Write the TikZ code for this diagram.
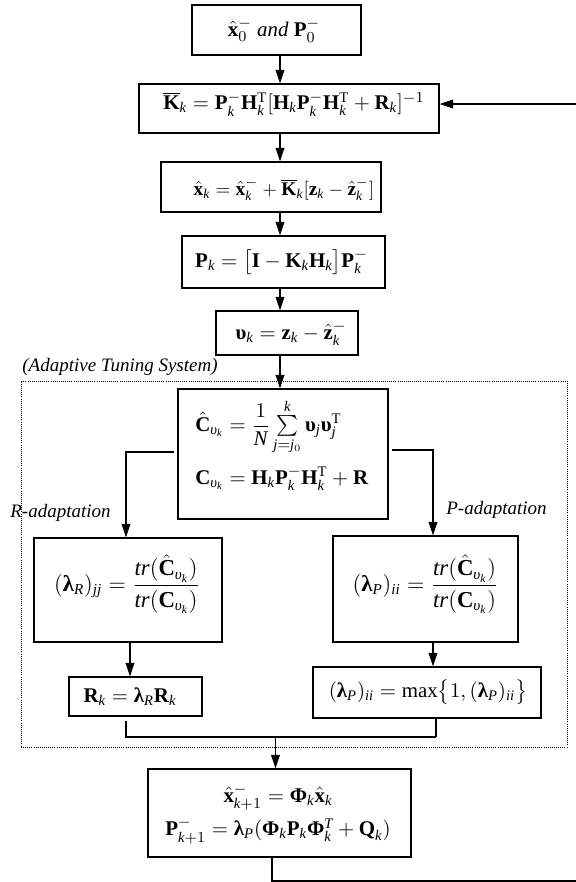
\documentclass[tikz,border=0pt]{standalone}
\usepackage{amsmath}
\usepackage{fontspec}
\setmainfont{Liberation Serif}
\usetikzlibrary{arrows.meta}
\DeclareSymbolFont{tletters}{TU}{\rmdefault}{m}{it}
\makeatletter
\count@=`a
\loop\Umathcode\count@="7 \symtletters\count@\ifnum\count@<`z\advance\count@\@ne\repeat
\count@=`A
\loop\Umathcode\count@="7 \symtletters\count@\ifnum\count@<`Z\advance\count@\@ne\repeat
\makeatother
\newcommand{\vb}[1]{\text{\normalfont\bfseries #1}}
\newcommand{\iu}{\text{\normalfont\itshape υ}}
\newcommand{\hvb}[1]{\hat{\vb{#1}}}
\newdimen\U \U=0.5263pt
\tikzset{
  box/.style={draw, line width=0.75pt, inner sep=0pt},
  txt/.style={inner sep=0pt, font=\fontsize{11}{13}\selectfont},
  txtS/.style={inner sep=0pt, font=\fontsize{10.2}{12}\selectfont},
  txtL/.style={inner sep=0pt, font=\fontsize{12}{14}\selectfont},
  lab/.style={inner sep=0pt, font=\fontsize{10}{12}\selectfont\itshape},
  conn/.style={line width=0.55pt},
  arr/.style={conn, -{Triangle[length=7pt,width=4.6pt]}},
  frame/.style={draw, line width=0.5pt, dash pattern=on 0.5pt off 0.6pt, inner sep=0pt}
}
\begin{document}
\begin{tikzpicture}[x=\U, y=-\U]
\useasboundingbox (0,0) rectangle (576,882);
% boxes
\node[box, minimum width=169*\U, minimum height=50*\U] (b1) at (276.5,30) {};
\node[box, minimum width=300*\U, minimum height=49*\U] (b2) at (289,108.5) {};
\node[box, minimum width=220*\U, minimum height=50*\U] (b3) at (271,187) {};
\node[box, minimum width=203*\U, minimum height=52*\U] (b4) at (283.5,262) {};
\node[box, minimum width=142*\U, minimum height=44*\U] (b5) at (287,333) {};
\node[frame, minimum width=546*\U, minimum height=366*\U] (ats) at (294,564) {};
\node[box, minimum width=210*\U, minimum height=130*\U] (C) at (283,454) {};
\node[box, minimum width=188*\U, minimum height=104*\U] (lR) at (128,590) {};
\node[box, minimum width=185*\U, minimum height=106*\U] (lP) at (425.5,589) {};
\node[box, minimum width=133*\U, minimum height=39*\U] (Rk) at (135.5,696.5) {};
\node[box, minimum width=228*\U, minimum height=51*\U] (mx) at (427,692.5) {};
\node[box, minimum width=263*\U, minimum height=88*\U] (bot) at (279.5,813) {};
% texts
\node[txt] (t1) at (274,30) {$\hvb{x}_0^-$ \textit{and} $\vb{P}_0^-$};
\node[txt] (t2) at (294,104) {$\overline{\vb{K}}_k = \vb{P}_k^-\vb{H}_k^{\mathrm{T}}[\vb{H}_k\vb{P}_k^-\vb{H}_k^{\mathrm{T}}+\vb{R}_k]^{-1}$};
\node[txtS] (t3) at (284,189) {$\hvb{x}_k = \hvb{x}_k^- + \overline{\vb{K}}_k[\vb{z}_k - \hvb{z}_k^-]$};
\node[txt] (t4) at (281.5,262) {$\vb{P}_k = \bigl[\vb{I} - \vb{K}_k\vb{H}_k\bigr]\vb{P}_k^-$};
\node[txt] (t5) at (291,333) {$\vb{υ}_k = \vb{z}_k - \hvb{z}_k^-$};
\node[txt, align=left, anchor=west] (tC) at (195,445) {$\hvb{C}_{\iu_k} = \dfrac{1}{N}\sum\limits_{j=j_0}^{k}\vb{υ}_j\vb{υ}_j^{\mathrm{T}}$\\[5pt]$\vb{C}_{\iu_k} = \vb{H}_k\vb{P}_k^-\vb{H}_k^{\mathrm{T}}+\vb{R}$};
\node[txtL] (tR) at (127,584) {$(\vb{λ}_R)_{jj} = \dfrac{tr(\hvb{C}_{\iu_k})}{tr(\vb{C}_{\iu_k})}$};
\node[txtL] (tP) at (425.5,584) {$(\vb{λ}_P)_{ii} = \dfrac{tr(\hvb{C}_{\iu_k})}{tr(\vb{C}_{\iu_k})}$};
\node[txt] (tRk) at (130,697) {$\vb{R}_k = \vb{λ}_R\vb{R}_k$};
\node[txt] (tmx) at (428,692) {$(\vb{λ}_P)_{ii} = \max\bigl\{1,(\vb{λ}_P)_{ii}\bigr\}$};
\node[txt, align=center] (tb) at (278,814) {$\hvb{x}_{k+1}^- = \vb{Φ}_k\hvb{x}_k$\\[3pt]$\vb{P}_{k+1}^- = \vb{λ}_P(\vb{Φ}_k\vb{P}_k\vb{Φ}_k^T+\vb{Q}_k)$};
% labels
\node[lab, anchor=west] (lats) at (22,367) {(Adaptive Tuning System)};
\node[lab, anchor=west] (lra) at (10,513) {R-adaptation};
\node[lab, anchor=west] (lpa) at (446,510) {P-adaptation};
% coordinates
\coordinate (mc) at (280,0);
\coordinate (rx) at (126,452);
\coordinate (px) at (433,450);
\coordinate (rx2) at (130,0);
\coordinate (m1) at (126,737);
\coordinate (m2) at (436,737);
\coordinate (m3) at (275.5,737);
\coordinate (fa) at (272,881);
\coordinate (fb) at (579,881);
\coordinate (fc) at (579,104);
% connectors
\draw[arr] (b1.south -| mc) -- (b2.north -| mc);
\draw[arr] (b2.south -| mc) -- (b3.north -| mc);
\draw[arr] (b3.south -| mc) -- (b4.north -| mc);
\draw[arr] (b4.south -| mc) -- (b5.north -| mc);
\draw[arr] (b5.south -| mc) -- (C.north -| mc);
\draw[arr, shorten <=1.5pt] (C.west |- rx) -| (lR.north -| rx);
\draw[arr, shorten <=1.5pt] (C.east |- px) -| (lP.north -| px);
\draw[arr] (lR.south -| rx2) -- (Rk.north -| rx2);
\draw[arr] (lP.south -| px) -- (mx.north -| px);
\draw[conn, shorten <=2pt] (Rk.south -| m1) -- (m1) -- (m2);
\draw[conn] (mx.south -| m2) -- (m2);
\draw[arr] (m3) -- (bot.north -| m3);
\draw[arr] (bot.south -| fa) -- (fa) -- (fb) -- (fc) -- (b2.east |- fc);
\end{tikzpicture}
\end{document}
